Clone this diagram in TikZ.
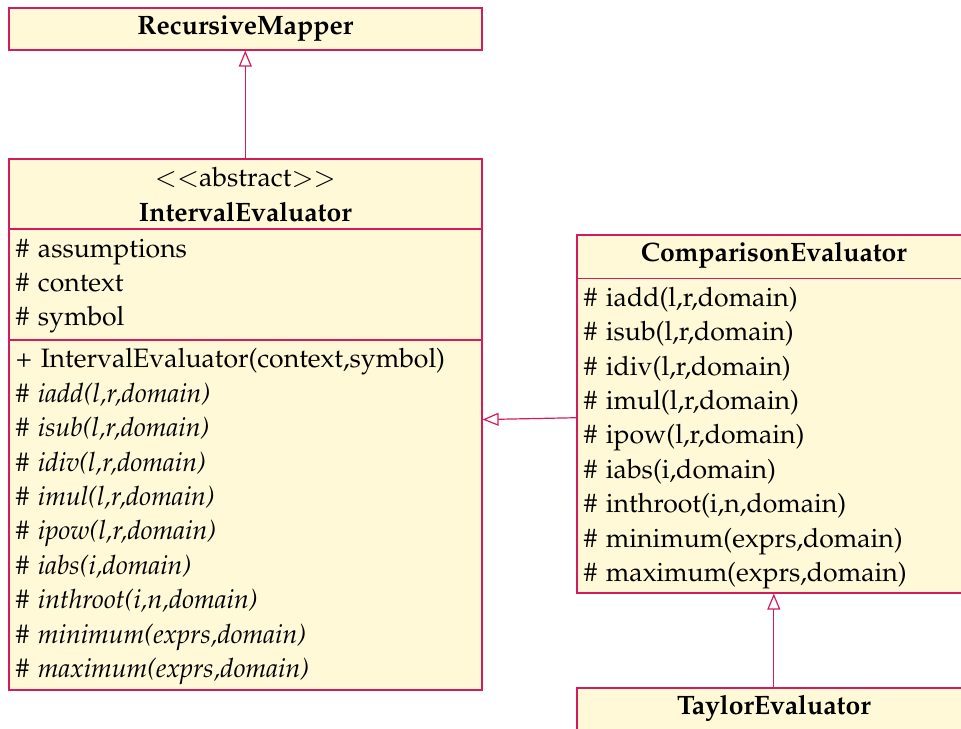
\documentclass[tikz,border=0pt]{standalone}
\usepackage[T1]{fontenc}
\usepackage{mathpazo}
\usepackage{tikz}
\usetikzlibrary{shapes.multipart,arrows.meta}
\definecolor{umlborder}{HTML}{D41B5E}
\definecolor{umlfill}{HTML}{FFF9D8}
\newcommand{\headstrut}{\rule[-6.4pt]{0pt}{18pt}}
\newcommand{\taildepth}[1]{\rule[-#1]{0pt}{1pt}}

\tikzset{
  umlclass/.style={rectangle, draw=umlborder, fill=umlfill, line width=0.8pt,
    font=\fontsize{13.3}{17.2}\selectfont,
    inner xsep=3.5pt, inner ysep=1.5pt, anchor=north west},
  umlsplit/.style={umlclass, rectangle split, rectangle split parts=#1},
  inherit/.style={draw=umlborder, line width=0.6pt,
    -{Triangle[open,length=8pt,width=6.5pt]}}
}

\begin{document}
\begin{tikzpicture}[x=0.5pt,y=-0.5pt]
    \useasboundingbox (0,0) rectangle (961,728);

    % classes
    \node[umlclass, text width=229.5pt] (mapper) at (8,7)
        {\centering\headstrut\textbf{RecursiveMapper}\par};

    \node[umlsplit=3, text width=229.5pt] (interval) at (8,158)
        {\centering\strut$<<$abstract$>>$\\ \textbf{IntervalEvaluator}\taildepth{2.2pt}\par
         \nodepart{two}\raggedright\strut\# assumptions\\ \# context\\ \# symbol\strut\par
         \nodepart{three}\raggedright\strut+ IntervalEvaluator(context,symbol)\\
         \textit{\# iadd(l,r,domain)}\\
         \textit{\# isub(l,r,domain)}\\
         \textit{\# idiv(l,r,domain)}\\
         \textit{\# imul(l,r,domain)}\\
         \textit{\# ipow(l,r,domain)}\\
         \textit{\# iabs(i,domain)}\\
         \textit{\# inthroot(i,n,domain)}\\
         \textit{\# minimum(exprs,domain)}\\
         \textit{\# maximum(exprs,domain)}\taildepth{4.2pt}\par};

    \node[umlsplit=2, text width=190pt] (comparison) at (576,234)
        {\centering\headstrut\textbf{ComparisonEvaluator}\par
         \nodepart{two}\raggedright\strut\# iadd(l,r,domain)\\
         \# isub(l,r,domain)\\
         \# idiv(l,r,domain)\\
         \# imul(l,r,domain)\\
         \# ipow(l,r,domain)\\
         \# iabs(i,domain)\\
         \# inthroot(i,n,domain)\\
         \# minimum(exprs,domain)\\
         \# maximum(exprs,domain)\taildepth{3.2pt}\par};

    \node[umlclass, text width=190pt] (taylor) at (576,687)
        {\centering\headstrut\textbf{TaylorEvaluator}\par};

    % inheritance
    \draw[inherit] (interval) -- (mapper);
    \draw[inherit] (comparison) -- (interval);
    \draw[inherit] (taylor) -- (comparison);
\end{tikzpicture}
\end{document}
